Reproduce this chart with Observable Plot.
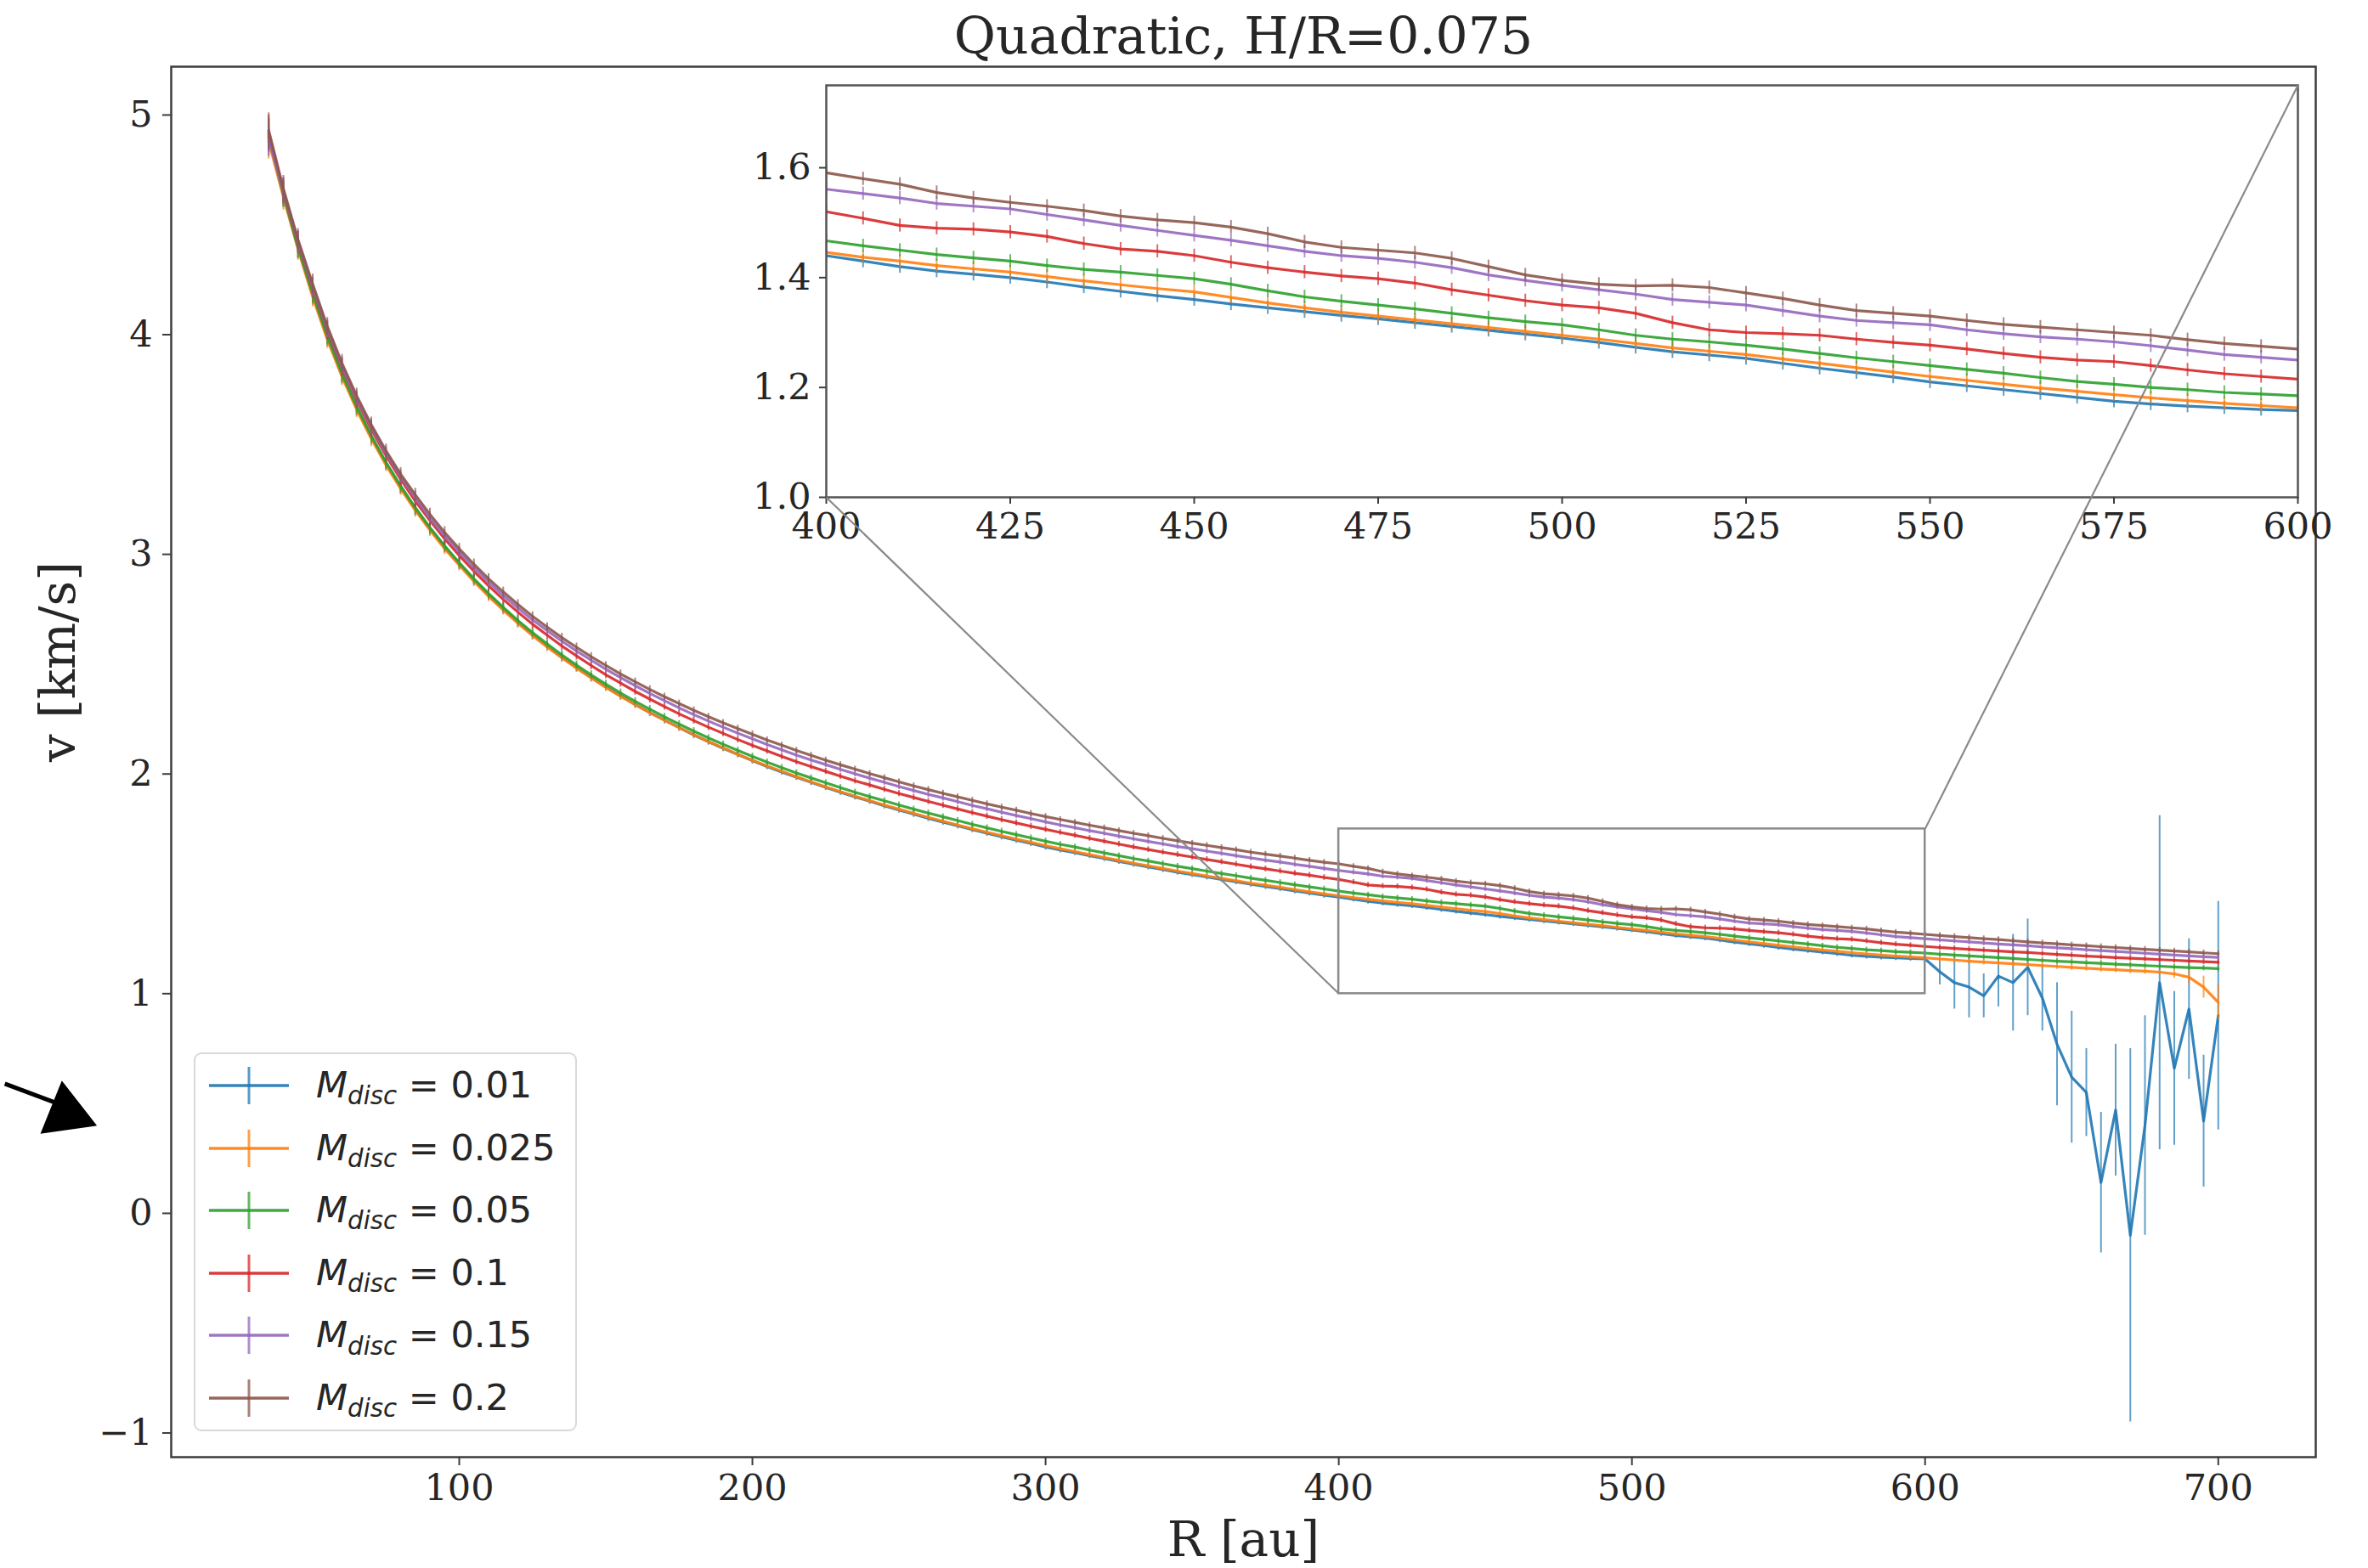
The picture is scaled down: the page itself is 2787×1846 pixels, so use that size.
<!DOCTYPE html>
<html><head><meta charset="utf-8">
<script src="https://cdn.jsdelivr.net/npm/d3@7"></script>
<script src="https://cdn.jsdelivr.net/npm/@observablehq/plot@0.6"></script>
<style>
body{margin:0;background:#fff;}
#wrap{position:relative;width:2787px;height:1846px;overflow:hidden;background:#fff;}
#wrap > svg, #wrap > figure{position:absolute;margin:0;}
.legend{position:absolute;box-sizing:border-box;border:2px solid #d9d9d9;border-radius:9px;background:rgba(255,255,255,0.85);font-family:"DejaVu Sans",sans-serif;color:#262626;}
.legend .row{position:absolute;left:0;height:60px;width:100%;}
.legend .row svg{position:absolute;left:14px;top:0;}
.legend .row .lab{position:absolute;left:142px;top:50%;transform:translateY(-52%);font-size:43px;white-space:nowrap;line-height:1;}
.legend .sub{font-size:0.68em;font-style:italic;position:relative;top:0.28em;}
</style></head>
<body><div id="wrap"></div>
<script>
// ---------------- data ----------------
const R = [35,40,45,50,55,60,65,70,75,80,85,90,95,100,105,110,115,120,125,130,135,140,145,150,155,160,165,170,175,180,185,190,195,200,205,210,215,220,225,230,235,240,245,250,255,260,265,270,275,280,285,290,295,300,305,310,315,320,325,330,335,340,345,350,355,360,365,370,375,380,385,390,395,400,405,410,415,420,425,430,435,440,445,450,455,460,465,470,475,480,485,490,495,500,505,510,515,520,525,530,535,540,545,550,555,560,565,570,575,580,585,590,595,600,605,610,615,620,625,630,635,640,645,650,655,660,665,670,675,680,685,690,695,700];

const vBlue = [4.90,4.641,4.398,4.180,3.986,3.816,3.666,3.534,3.413,3.305,3.206,3.116,3.033,2.956,2.883,2.814,2.751,2.691,2.634,2.582,2.532,2.485,2.440,2.397,2.356,2.317,2.280,2.245,2.211,2.178,2.147,2.117,2.089,2.061,2.034,2.009,1.985,1.962,1.939,1.917,1.896,1.876,1.855,1.836,1.817,1.798,1.781,1.764,1.747,1.730,1.714,1.699,1.684,1.668,1.654,1.642,1.628,1.615,1.602,1.589,1.577,1.565,1.553,1.542,1.531,1.520,1.509,1.498,1.488,1.478,1.468,1.458,1.448,
1.440,1.430,1.420,1.412,1.406,1.400,1.392,1.383,1.375,1.367,1.360,1.352,1.345,1.338,1.331,1.325,1.318,1.311,1.304,1.297,1.290,1.282,1.273,1.265,1.259,1.253,1.244,1.235,1.227,1.219,1.210,1.203,1.196,1.189,1.182,1.175,1.170,1.166,1.163,1.160,1.158,
1.10,1.05,1.03,0.99,1.08,1.05,1.12,0.98,0.77,0.62,0.55,0.14,0.47,-0.10,0.40,1.05,0.66,0.93,0.42,0.90];

const vOrange = [4.88,4.627,4.389,4.172,3.978,3.809,3.659,3.526,3.407,3.299,3.200,3.110,3.026,2.950,2.877,2.809,2.746,2.686,2.630,2.578,2.529,2.482,2.437,2.394,2.354,2.316,2.279,2.245,2.211,2.179,2.148,2.119,2.090,2.063,2.037,2.012,1.988,1.964,1.942,1.920,1.899,1.879,1.859,1.840,1.821,1.803,1.785,1.768,1.751,1.735,1.719,1.704,1.689,1.674,1.660,1.647,1.633,1.620,1.607,1.594,1.582,1.570,1.558,1.547,1.536,1.525,1.514,1.503,1.494,1.484,1.474,1.464,1.454,
1.446,1.437,1.430,1.422,1.416,1.410,1.402,1.394,1.387,1.380,1.374,1.364,1.354,1.345,1.337,1.330,1.323,1.316,1.309,1.302,1.295,1.288,1.280,1.272,1.266,1.260,1.252,1.244,1.236,1.228,1.220,1.213,1.206,1.199,1.193,1.187,1.181,1.176,1.171,1.167,1.163,
1.158,1.153,1.148,1.144,1.140,1.136,1.132,1.128,1.124,1.120,1.116,1.112,1.109,1.105,1.102,1.098,1.090,1.075,1.03,0.96];

const vGreen = [4.91,4.641,4.398,4.189,3.994,3.824,3.674,3.541,3.420,3.312,3.213,3.122,3.039,2.962,2.889,2.822,2.759,2.699,2.644,2.592,2.542,2.496,2.451,2.409,2.369,2.331,2.295,2.260,2.227,2.195,2.164,2.135,2.107,2.080,2.054,2.029,2.005,1.982,1.960,1.938,1.917,1.897,1.878,1.859,1.840,1.822,1.805,1.788,1.771,1.755,1.739,1.724,1.709,1.694,1.680,1.668,1.654,1.641,1.628,1.615,1.604,1.592,1.580,1.569,1.558,1.547,1.537,1.526,1.516,1.506,1.496,1.486,1.477,
1.467,1.458,1.450,1.442,1.436,1.430,1.422,1.415,1.410,1.404,1.398,1.388,1.376,1.365,1.357,1.350,1.343,1.335,1.327,1.320,1.314,1.305,1.295,1.288,1.283,1.277,1.270,1.262,1.254,1.247,1.240,1.233,1.226,1.218,1.211,1.206,1.200,1.196,1.191,1.188,1.185,
1.180,1.176,1.172,1.168,1.164,1.160,1.156,1.152,1.148,1.145,1.141,1.138,1.134,1.131,1.128,1.125,1.122,1.119,1.117,1.114];

const vRed = [4.92,4.655,4.420,4.214,4.020,3.851,3.702,3.569,3.450,3.342,3.243,3.154,3.071,2.995,2.923,2.857,2.795,2.737,2.682,2.632,2.583,2.538,2.494,2.452,2.414,2.376,2.341,2.307,2.274,2.243,2.213,2.185,2.157,2.130,2.105,2.080,2.056,2.034,2.012,1.990,1.969,1.950,1.930,1.911,1.893,1.875,1.858,1.841,1.824,1.808,1.792,1.777,1.762,1.748,1.734,1.721,1.707,1.694,1.681,1.668,1.656,1.644,1.633,1.622,1.611,1.600,1.589,1.578,1.568,1.558,1.548,1.539,1.529,
1.520,1.508,1.495,1.490,1.488,1.483,1.475,1.462,1.452,1.448,1.440,1.428,1.418,1.410,1.403,1.398,1.390,1.378,1.368,1.358,1.350,1.345,1.335,1.318,1.305,1.300,1.298,1.295,1.288,1.282,1.277,1.270,1.262,1.255,1.250,1.247,1.240,1.232,1.225,1.220,1.215,
1.210,1.206,1.202,1.198,1.194,1.190,1.187,1.183,1.179,1.175,1.171,1.168,1.164,1.161,1.158,1.155,1.152,1.149,1.146,1.143];

const vPurple = [4.89,4.655,4.424,4.218,4.026,3.859,3.711,3.580,3.462,3.355,3.258,3.166,3.085,3.010,2.939,2.874,2.813,2.756,2.702,2.653,2.605,2.560,2.518,2.477,2.439,2.402,2.367,2.334,2.301,2.270,2.241,2.213,2.186,2.160,2.134,2.110,2.086,2.064,2.043,2.021,2.001,1.981,1.962,1.943,1.925,1.907,1.891,1.874,1.857,1.842,1.826,1.811,1.797,1.782,1.768,1.756,1.742,1.730,1.717,1.705,1.693,1.682,1.670,1.660,1.649,1.639,1.628,1.618,1.608,1.599,1.589,1.580,1.570,
1.561,1.553,1.545,1.535,1.530,1.525,1.515,1.505,1.495,1.486,1.477,1.468,1.458,1.448,1.440,1.435,1.428,1.418,1.405,1.395,1.386,1.378,1.370,1.360,1.355,1.350,1.340,1.330,1.322,1.318,1.314,1.305,1.298,1.292,1.288,1.283,1.276,1.268,1.260,1.255,1.250,
1.245,1.240,1.236,1.231,1.226,1.222,1.218,1.213,1.209,1.205,1.200,1.196,1.192,1.188,1.184,1.180,1.176,1.172,1.168,1.165];

const vBrown = [4.93,4.665,4.433,4.231,4.038,3.870,3.722,3.590,3.472,3.365,3.271,3.182,3.100,3.025,2.955,2.889,2.829,2.772,2.718,2.669,2.621,2.577,2.534,2.494,2.456,2.420,2.385,2.352,2.321,2.290,2.261,2.233,2.207,2.181,2.155,2.131,2.107,2.085,2.063,2.042,2.022,2.002,1.983,1.964,1.946,1.929,1.912,1.896,1.880,1.864,1.849,1.835,1.820,1.806,1.793,1.780,1.767,1.755,1.742,1.730,1.719,1.707,1.696,1.685,1.675,1.665,1.655,1.644,1.635,1.626,1.617,1.607,1.598,
1.591,1.580,1.570,1.555,1.545,1.537,1.530,1.522,1.512,1.505,1.500,1.492,1.480,1.465,1.455,1.450,1.445,1.435,1.420,1.405,1.395,1.388,1.385,1.386,1.382,1.372,1.362,1.350,1.340,1.335,1.330,1.322,1.315,1.310,1.305,1.300,1.295,1.287,1.280,1.275,1.270,
1.265,1.260,1.255,1.250,1.246,1.241,1.236,1.231,1.227,1.222,1.218,1.214,1.210,1.206,1.202,1.198,1.194,1.190,1.186,1.182];

// typical error bar half-lengths (all series)
const errCommon = [0.08,0.06,0.05,0.045,0.04,0.04,0.035,0.035,0.03,0.03,0.03,0.028,0.026,0.025,
0.024,0.023,0.022,0.022,0.021,0.020,0.020,0.019,0.019,0.018,
0.018,0.017,0.017,0.016,0.016,0.016,0.015,0.015,0.015,0.015,
0.014,0.014,0.014,0.014,0.014,0.014,0.014,0.014,0.014,0.014,0.014,0.014,0.014,0.014,0.014,0.014,0.014,0.014,0.014,0.014,
0.013,0.013,0.013,0.013,0.013,0.013,0.013,0.013,0.013,0.013,0.013,0.013,0.013,0.013,0.013,0.013,0.013,0.013,0.013,
0.012,0.012,0.012,0.012,0.012,0.012,0.012,0.012,0.012,0.012,0.012,0.012,0.012,0.012,0.012,0.012,0.012,0.012,0.012,0.012,0.012,0.012,0.012,0.012,0.012,0.012,0.012,0.012,0.012,0.012,0.012,0.012,0.012,0.012,0.012,0.012,0.012,0.012,0.012,0.012,0.012,
0.013,0.013,0.013,0.013,0.013,0.013,0.013,0.013,0.013,0.013,0.013,0.013,0.013,0.013,0.013,0.013,0.013,0.013,0.013,0.013];
// noisy outer tail (R = 605 ... 700)
const errBlueTail = [0.06,0.12,0.14,0.10,0.14,0.22,0.22,0.15,0.28,0.30,0.20,0.32,0.30,0.85,0.50,0.76,0.35,0.32,0.30,0.52];
// orange tail (R = 685 ... 700)
const errOrangeTail = [0.02,0.03,0.05,0.08];

const seriesLabels = ["0.01","0.025","0.05","0.1","0.15","0.2"];
const seriesColors = ["#1f77b4","#ff7f0e","#2ca02c","#d62728","#9467bd","#8c564b"];
const seriesValues = [vBlue, vOrange, vGreen, vRed, vPurple, vBrown];

const titleText = "Quadratic, H/R=0.075";
const xLabel = "R [au]";
const yLabel = "v [km/s]";
const xTicks = [100,200,300,400,500,600,700];
const yTicks = [-1,0,1,2,3,4,5];
const xDomain = [1.75, 733.25];
const yDomain = [-1.11, 5.22];
const insetXDomain = [400, 600];
const insetYDomain = [1.0, 1.75];
const insetXTicks = [400,425,450,475,500,525,550,575,600];
const insetYTicks = [1.0,1.2,1.4,1.6];
// hand-drawn arrow annotation (data coords, left of the axes)
const arrowShaft = [{x1: -55, y1: 0.59, x2: -37, y2: 0.50}];
const arrowHead = [{x: -34, y: 0.455}];

// ---------------- table ----------------
const tailStart = R.indexOf(605);
const orangeTailStart = R.indexOf(685);
const rows = [];
seriesValues.forEach((vals, k) => {
  vals.forEach((v, i) => {
    let e = errCommon[i];
    if (k === 0 && i >= tailStart) e = errBlueTail[i - tailStart];
    if (k === 1 && i >= orangeTailStart) e = errOrangeTail[i - orangeTailStart];
    rows.push({k, R: R[i], v, e});
  });
});

function seriesMarks(data, opts = {}) {
  return seriesLabels.flatMap((_, k) => {
    const d = data.filter(r => r.k === k);
    return [
      Plot.ruleX(d, {x: "R", y1: r => r.v - r.e, y2: r => r.v + r.e, stroke: seriesColors[k], strokeWidth: opts.ew || 2, strokeOpacity: 0.7, ...opts.extra}),
      Plot.line(d, {x: "R", y: "v", stroke: seriesColors[k], strokeWidth: opts.lw || 3.2, strokeOpacity: 0.9, ...opts.extra})
    ];
  });
}

// ---------------- layout ----------------
const W = 2787, H = 1846;
const M = {left: 201, right: 62, top: 78, bottom: 131};
const insetFrame = {left: 972, right: 2704, top: 100, bottom: 585};
const serif = "DejaVu Serif, serif";
const textColor = "#262626";

const wrap = document.getElementById("wrap");

const main = Plot.plot({
  width: W, height: H,
  marginLeft: M.left, marginRight: M.right, marginTop: M.top, marginBottom: M.bottom,
  x: {domain: xDomain},
  y: {domain: yDomain},
  style: {fontFamily: serif, color: textColor, background: "white", overflow: "visible"},
  marks: [
    ...seriesMarks(rows),
    Plot.rect([{x1: insetXDomain[0], x2: insetXDomain[1], y1: insetYDomain[0], y2: insetYDomain[1]}],
      {x1: "x1", x2: "x2", y1: "y1", y2: "y2", fill: "none", stroke: "#8a8a8a", strokeWidth: 2.5}),
    Plot.frame({stroke: "#3c3c3c", strokeWidth: 2.5}),
    Plot.axisX(xTicks, {tickSize: 10, tickPadding: 10, fontSize: 43, fontFamily: serif, label: null, tickFormat: "d", stroke: "#3c3c3c", strokeWidth: 2}),
    Plot.axisY(yTicks, {tickSize: 10, tickPadding: 12, fontSize: 43, fontFamily: serif, label: null, tickFormat: "d", stroke: "#3c3c3c", strokeWidth: 2}),
    Plot.text([titleText], {text: d => d, frameAnchor: "top", dy: -58, fontSize: 60, fontFamily: serif, fill: textColor}),
    Plot.text([xLabel], {text: d => d, frameAnchor: "bottom", dy: 116, fontSize: 58, fontFamily: serif, fill: textColor}),
    Plot.text([yLabel], {text: d => d, frameAnchor: "left", dx: -132, rotate: -90, fontSize: 58, fontFamily: serif, fill: textColor}),
    Plot.link(arrowShaft, {x1: "x1", y1: "y1", x2: "x2", y2: "y2", stroke: "black", strokeWidth: 5}),
    Plot.dot(arrowHead, {x: "x", y: "y", symbol: "triangle", r: 24, fill: "black", stroke: "black", rotate: 112})
  ]
});
main.style.left = "0px"; main.style.top = "0px";
wrap.appendChild(main);

// ---------------- inset ----------------
const IM = {left: 110, right: 50, top: 12, bottom: 80};
const insetRows = rows.filter(r => r.R >= insetXDomain[0] && r.R <= insetXDomain[1]);
const inset = Plot.plot({
  width: IM.left + (insetFrame.right - insetFrame.left) + IM.right,
  height: IM.top + (insetFrame.bottom - insetFrame.top) + IM.bottom,
  marginLeft: IM.left, marginRight: IM.right, marginTop: IM.top, marginBottom: IM.bottom,
  x: {domain: insetXDomain},
  y: {domain: insetYDomain},
  style: {fontFamily: serif, color: textColor, background: "transparent", overflow: "visible"},
  marks: [
    Plot.frame({fill: "white"}),
    ...seriesMarks(insetRows, {lw: 3.2, ew: 2, extra: {clip: true}}),
    Plot.frame({stroke: "#555", strokeWidth: 2.5}),
    Plot.axisX(insetXTicks, {tickSize: 8, tickPadding: 10, fontSize: 43, fontFamily: serif, label: null, tickFormat: "d", stroke: "#3c3c3c", strokeWidth: 2}),
    Plot.axisY(insetYTicks, {tickSize: 8, tickPadding: 10, fontSize: 43, fontFamily: serif, label: null, tickFormat: d3.format(".1f"), stroke: "#3c3c3c", strokeWidth: 2})
  ]
});
inset.style.left = (insetFrame.left - IM.left) + "px";
inset.style.top = (insetFrame.top - IM.top) + "px";
wrap.appendChild(inset);

// ---------------- connectors (drawn on top) ----------------
const sx = d3.scaleLinear(xDomain, [M.left, W - M.right]);
const sy = d3.scaleLinear(yDomain, [H - M.bottom, M.top]);
const connectors = [
  {x1: insetXDomain[0], y1: insetYDomain[0], x2: sx.invert(insetFrame.left), y2: sy.invert(insetFrame.bottom)},
  {x1: insetXDomain[1], y1: insetYDomain[1], x2: sx.invert(insetFrame.right), y2: sy.invert(insetFrame.top)}
];
const overlay = Plot.plot({
  width: W, height: H,
  marginLeft: M.left, marginRight: M.right, marginTop: M.top, marginBottom: M.bottom,
  x: {domain: xDomain, axis: null},
  y: {domain: yDomain, axis: null},
  style: {background: "transparent", overflow: "visible", pointerEvents: "none"},
  marks: [
    Plot.link(connectors, {x1: "x1", y1: "y1", x2: "x2", y2: "y2", stroke: "#8a8a8a", strokeWidth: 2.2})
  ]
});
overlay.style.left = "0px"; overlay.style.top = "0px";
wrap.appendChild(overlay);

// ---------------- legend ----------------
const legend = document.createElement("div");
legend.className = "legend";
Object.assign(legend.style, {left: "228px", top: "1239px", width: "451px", height: "446px"});
const rowStep = 73.6, firstRow = 37;
seriesLabels.forEach((lab, k) => {
  const row = document.createElement("div");
  row.className = "row";
  row.style.top = (firstRow + k * rowStep - 30) + "px";
  const c = seriesColors[k];
  row.innerHTML =
    `<svg width="100" height="60"><line x1="2" x2="96" y1="30" y2="30" stroke="${c}" stroke-width="3.5" stroke-opacity="0.9"/>` +
    `<line x1="49" x2="49" y1="8" y2="52" stroke="${c}" stroke-width="3" stroke-opacity="0.75"/></svg>` +
    `<span class="lab"><i>M</i><span class="sub">disc</span> = ${lab}</span>`;
  legend.appendChild(row);
});
wrap.appendChild(legend);
</script>
</body></html>
